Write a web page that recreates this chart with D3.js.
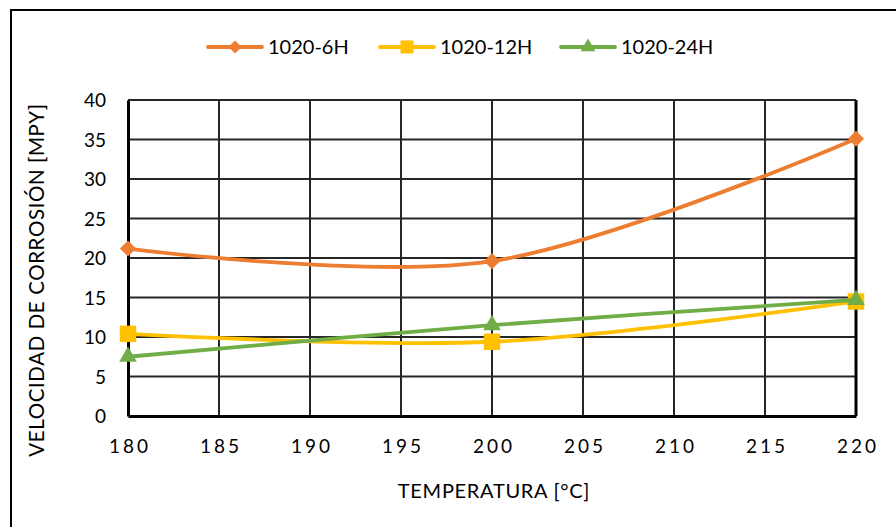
<!DOCTYPE html>
<html>
<head>
<meta charset="utf-8">
<script src="https://cdn.jsdelivr.net/npm/d3@7"></script>
<style>
  body { margin: 0; background: #fff; }
  svg text { font-family: Lato, "Open Sans", sans-serif; fill: #000; }
</style>
</head>
<body>
<div class="chart"></div>
<script>
// temperatures (°C)
const temps = [180, 200, 220]
const xTicks = [180, 185, 190, 195, 200, 205, 210, 215, 220]
const yTicks = [0, 5, 10, 15, 20, 25, 30, 35, 40]

// corrosion rate (MPY)
const s6h  = [21.2, 19.6, 35.1]
const s12h = [10.4, 9.4, 14.5]
const s24h = [7.5, 11.5, 14.7]

const seriesNames = ['1020-6H', '1020-12H', '1020-24H']
const seriesColors = ['#ED7D31', '#FFC000', '#70AD47']
const seriesShapes = [d3.symbolDiamond2, d3.symbolSquare, d3.symbolTriangle]

const W = 896, H = 527
const margin = {top: 100, right: 40, bottom: 111, left: 128}

const svg = d3.select('.chart')
  .append('svg')
    .attr('width', W)
    .attr('height', H)

// outer frame (only left/top visible in the picture)
svg.append('rect')
  .attr('x', 11).attr('y', 10)
  .attr('width', 1000).attr('height', 1000)
  .attr('fill', 'none')
  .attr('stroke', '#000')
  .attr('stroke-width', 2)

const x = d3.scaleLinear().domain([180, 220]).range([margin.left, W - margin.right])
const y = d3.scaleLinear().domain([0, 40]).range([H - margin.bottom, margin.top])

// gridlines
svg.append('g')
  .selectAll('line')
  .data(yTicks.filter(d => d > 0))
  .enter()
  .append('line')
    .attr('x1', x(180)).attr('x2', x(220))
    .attr('y1', d => y(d)).attr('y2', d => y(d))
    .attr('stroke', '#262626')
    .attr('stroke-width', 2)

svg.append('g')
  .selectAll('line')
  .data(xTicks.filter(d => d > 180 && d < 220))
  .enter()
  .append('line')
    .attr('x1', d => x(d)).attr('x2', d => x(d))
    .attr('y1', y(0)).attr('y2', y(40))
    .attr('stroke', '#262626')
    .attr('stroke-width', 2)

// axes
const xAxis = svg.append('g')
  .attr('transform', `translate(0,${y(0)})`)
  .call(d3.axisBottom(x).tickValues(xTicks).tickSize(0).tickPadding(0).tickFormat(d3.format('d')))
xAxis.select('.domain').attr('stroke', '#000').attr('stroke-width', 3)
xAxis.selectAll('text')
  .attr('y', 37)
  .attr('dy', 0)
  .attr('dx', 1.5)
  .style('font-size', '19px')
  .style('letter-spacing', '3px')

const yAxis = svg.append('g')
  .attr('transform', `translate(${x(180)},0)`)
  .call(d3.axisLeft(y).tickValues(yTicks).tickSize(0).tickPadding(22))
yAxis.select('.domain').attr('stroke', '#000').attr('stroke-width', 3)
yAxis.selectAll('text')
  .style('font-size', '19px')
  .attr('dy', '0.35em')

// right edge of plot
svg.append('line')
  .attr('x1', x(220)).attr('x2', x(220))
  .attr('y1', y(0)).attr('y2', y(40))
  .attr('stroke', '#000')
  .attr('stroke-width', 3)

// axis titles
svg.append('text')
  .attr('x', 494).attr('y', 498)
  .attr('text-anchor', 'middle')
  .style('font-size', '20px')
  .style('letter-spacing', '0.7px')
  .text('TEMPERATURA [°C]')

svg.append('text')
  .attr('transform', 'translate(44,280) rotate(-90)')
  .attr('text-anchor', 'middle')
  .style('font-size', '20.5px')
  .style('letter-spacing', '0.6px')
  .text('VELOCIDAD DE CORROSIÓN [MPY]')

// series
const allSeries = [s6h, s12h, s24h]
const line = d3.line()
  .x((d, i) => x(temps[i]))
  .y(d => y(d))
  .curve(d3.curveCardinal.tension(0))

const symSizes = [165, 270, 135]
const legSizes = [110, 170, 95]

allSeries.forEach((vals, k) => {
  const g = svg.append('g')
  g.append('path')
    .datum(vals)
    .attr('d', line)
    .attr('fill', 'none')
    .attr('stroke', seriesColors[k])
    .attr('stroke-width', 3.8)
    .attr('stroke-linecap', 'round')
  g.selectAll('path.m')
    .data(vals)
    .enter()
    .append('path')
      .attr('class', 'm')
      .attr('transform', (d, i) => `translate(${x(temps[i])},${y(d)})`)
      .attr('d', d3.symbol().type(seriesShapes[k]).size(symSizes[k]))
      .attr('fill', seriesColors[k])
})

// legend
const legX = [208, 380, 561]
const legend = svg.append('g')
seriesNames.forEach((name, k) => {
  const g = legend.append('g').attr('transform', `translate(${legX[k]},47)`)
  g.append('line')
    .attr('x1', 0).attr('x2', 54)
    .attr('stroke', seriesColors[k])
    .attr('stroke-width', 3.8)
    .attr('stroke-linecap', 'round')
  g.append('path')
    .attr('transform', 'translate(27,0)')
    .attr('d', d3.symbol().type(seriesShapes[k]).size(legSizes[k]))
    .attr('fill', seriesColors[k])
  g.append('text')
    .attr('x', 60)
    .attr('dy', '0.35em')
    .style('font-size', '20px')
    .text(name)
})
</script>
</body>
</html>
